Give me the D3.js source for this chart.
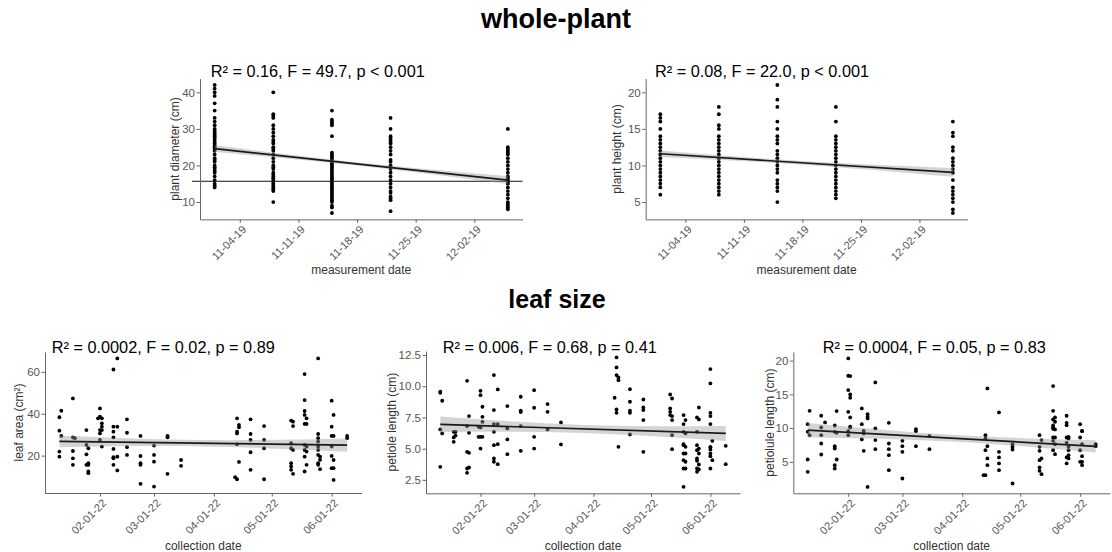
<!DOCTYPE html>
<html><head><meta charset="utf-8">
<script src="https://cdn.jsdelivr.net/npm/d3@7"></script>
<style>
body{margin:0;background:#fff;}
svg{display:block;font-family:"Liberation Sans",Arial,Helvetica,sans-serif;}
</style></head><body>
<svg id="chart" width="1112" height="552"></svg>
<script>
// ---------------- DATA ----------------
const wholePlantDates = ["2019-11-01","2019-11-08","2019-11-15","2019-11-22","2019-12-06"];
const wholePlantTicks = ["2019-11-04","2019-11-11","2019-11-18","2019-11-25","2019-12-02"];
const leafTicks = ["2022-02-01","2022-03-01","2022-04-01","2022-05-01","2022-06-01"];

const diameterValues = [
  [42,41,40,39,37,35,33,32,31,30,29.5,29,28.5,28,27.5,27,26.5,26,25.5,25,24.5,24,23,22,21.5,21,20,19.5,19,18.5,18,17,16,15,14.5,14],
  [40,34,33.5,33,31,30,29,28,27,26.5,26,25,24.5,24,23,22,21,20,19.5,19,18,17.5,17,16.5,16,15.5,15,14.5,14,13.5,13,10],
  [35,32.5,32,31.5,31,28,23.5,23,22.5,22,21.5,21,20.5,20,19.5,19,18.5,18,17.5,17,16.5,16,15.5,15,14.5,14,13.5,13,12.5,12,11.5,11,10.5,10,9,8.5,7],
  [33,30,28,27.5,27,26.5,26,25,24,23,21.5,21,20,19.5,19,18,17,16,15,14,13,12.5,11.5,11,10.5,7.5],
  [30,25,24.5,24,23.5,23,22,21,20,19,18,17,16.5,16,15.5,15,14,13,12,11,10,9.5,9,8.5,8]
];
const heightValues = [
  [17,16.5,16,15,14,13.5,13,12.5,12,11.5,11,10.5,10,9.5,9,8.5,8,7.5,7,6],
  [18,17,15.5,15,14,13.5,13,12.5,12,11.5,11,10.5,10,9.5,9,8.5,8,7.5,7,6.5,6],
  [21,19,18,16,15,14,13.5,13,12,11.5,11,10.5,10,9.5,9,8,7.5,7,6.5,5],
  [18,16,14,13.5,13,12.5,12,11.5,11,10.5,10,9.5,9,8.5,8,7.5,7,6.5,6,5.5],
  [16,14.5,14,12.5,12,11,10.5,10,9.5,9,8,7,6.5,6,5.5,5,4,3.5]
];
const diameterReference = 15.7;

const leafAreaData = [
  ["2022-01-11",[38.3,31.9,21.9,19.5]],["2022-01-12",[41.4,29.4]],
  ["2022-01-18",[47.3,28.7,22.2,18.7,15.6]],["2022-01-19",[28.3]],
  ["2022-01-25",[32.2,25.1,20.6,15.6]],["2022-01-26",[23.5,16.4,15.6,12.4,11.6]],
  ["2022-01-31",[37.8]],["2022-02-01",[42.5,38.6,32.2,30.6,27.5]],["2022-02-02",[37.8,35.4,33.8,32.2,24.3]],
  ["2022-02-08",[61.1,33.8,31.4,28.7,23.2,19.2,18.7,15.6]],["2022-02-10",[66.4,33.8,19.5,12.9]],
  ["2022-02-15",[37.3,30.9,24.0,20.3]],["2022-02-22",[29.4,19.8,16.4,15.6,6.5]],
  ["2022-03-01",[24.8,20.3,17.1,5.2]],["2022-03-08",[29.4,28.7,11.3]],["2022-03-15",[17.9,15.1]],
  ["2022-04-12",[9.7]],["2022-04-13",[37.8,31.4,30.6,25.4,8.7]],["2022-04-14",[34.6,33.5,17.0]],
  ["2022-04-20",[37.3,30.3,27.5,21.6,13.2]],["2022-04-27",[34.1,27.5,23.5,8.7]],
  ["2022-05-11",[36.7,25.9,23.5,16.4,14.8,13.2]],["2022-05-12",[36.2,34.1,22.7,11.3]],
  ["2022-05-18",[58.9,46.5,41.3,39.4,35.1,25.1,22.7,19.5,12.4]],["2022-05-19",[37.8,35.1,24.3,21.9,15.6]],
  ["2022-05-25",[66.4,30.3,28.3,26.7,24.3,22.7,20.3,16.4,15.6]],["2022-05-26",[19.5,18.0,13.5]],
  ["2022-06-01",[46.2,33.8,29.4,24.3,19.8,14.0]],["2022-06-02",[39.4,29.4,17.9,14.0,8.4]],
  ["2022-06-09",[29.4,28.3]]
];
const petioleData = [
  ["2022-01-11",[9.56,9.48,6.54,3.54]],["2022-01-12",[8.84,6.22]],
  ["2022-01-18",[6.35,5.90,5.55]],["2022-01-19",[6.35,6.05]],
  ["2022-01-25",[10.44,6.81,4.75,3.41,3.06]],["2022-01-26",[7.61,6.27,4.67,3.49]],
  ["2022-01-31",[6.75,5.95]],["2022-02-01",[9.64,9.29,6.70,5.95,5.01]],["2022-02-02",[8.36,7.55,7.15,5.95]],
  ["2022-02-08",[10.90,8.09,6.97,6.35,5.28,4.21,3.95]],["2022-02-10",[9.75,6.97,5.36,3.76]],
  ["2022-02-15",[8.41,6.62,5.74,4.56]],["2022-02-22",[9.16,8.04,7.93,6.81,4.83]],
  ["2022-03-01",[9.69,8.28,5.95,5.01]],["2022-03-08",[8.57,7.95,6.54]],["2022-03-15",[7.10,5.34]],
  ["2022-04-12",[9.08]],["2022-04-13",[12.31,11.51,10.90,8.14,7.87]],["2022-04-14",[10.71,10.49,5.15]],
  ["2022-04-20",[9.77,8.76,8.04,7.87,6.14]],["2022-04-27",[8.94,8.30,8.09,7.29,4.75]],
  ["2022-05-11",[9.34,8.22,7.95,7.69]],["2022-05-12",[9.02,7.61,7.29,6.08,4.96]],
  ["2022-05-18",[7.69,6.97,6.35,5.36,5.28,4.61,4.08,3.41,1.94]],["2022-05-19",[7.29,6.22,5.15,4.61,3.95,3.41]],
  ["2022-05-25",[7.50,6.35,5.28,4.88,4.21,4.03,3.41,3.14]],["2022-05-26",[8.30,7.34,5.01,4.61,3.73,3.33]],
  ["2022-06-01",[11.38,10.23,7.87,7.61,6.97,5.15,5.09,4.93,4.61,4.40,3.41]],["2022-06-02",[5.63,4.08]],
  ["2022-06-09",[5.23,3.76]]
];
const petioluleData = [
  ["2022-01-11",[10.59,9.45,5.35,3.52]],["2022-01-12",[12.57,8.96]],
  ["2022-01-18",[11.83,10.1,8.96,7.72,6.09]],["2022-01-20",[10.84]],
  ["2022-01-25",[10.39,9.45,7.33,6.98,4.51,4.01]],["2022-01-26",[12.52,9.3,5.35]],
  ["2022-02-01",[20.33,17.76,15.64,12.42,9.55,8.96]],["2022-02-02",[17.71,15.0,14.5,11.58,10.2,10.1]],
  ["2022-02-08",[12.92,10.59,8.32]],["2022-02-09",[9.6,9.21,6.63]],["2022-02-11",[12.07,11.68,11.43,1.29]],
  ["2022-02-15",[16.77,9.95,8.22,6.88]],["2022-02-22",[10.79,7.72,6.88,5.99,3.77]],
  ["2022-03-01",[8.12,7.33,6.49,2.53]],["2022-03-08",[9.85,9.55,7.33]],["2022-03-15",[8.86,6.88]],
  ["2022-04-12",[3.02]],["2022-04-13",[8.96,8.46,6.73,3.02]],["2022-04-14",[15.88,7.33,5.5,4.51]],
  ["2022-04-20",[12.32,6.49,5.65,4.76,3.77]],["2022-04-27",[7.62,7.23,6.83,1.79]],
  ["2022-05-11",[8.96,7.23,6.63,5.25,4.16,3.67]],["2022-05-12",[8.22,5.5,3.17]],
  ["2022-05-18",[16.23,12.57,11.28,10.4,10.1,9.9,8.61,8.12,6.73]],["2022-05-19",[11.58,10.94,9.8,8.61,7.62,6.14]],
  ["2022-05-25",[11.83,10.79,10.44,8.61,7.82,5.65,4.76]],["2022-05-26",[8.71,8.46,7.23,6.73,5.99,5.5]],
  ["2022-06-01",[10.59,8.61,6.73,5.0]],["2022-06-02",[9.6,9.55,7.62,5.84,5.0,4.51]],
  ["2022-06-09",[7.62,7.33]]
];

// fitted line values at first / last date, and CI half-widths at start / middle / end
const diameterFit = [24.6, 16.0],  diameterBand = [0.9, 0.45, 1.1];
const heightFit = [11.6, 9.05],    heightBand = [0.45, 0.25, 0.6];
const leafAreaFit = [26.8, 25.0],  leafAreaBand = [2.8, 1.5, 3.2];
const petioleFit = [6.95, 6.22],   petioleBand = [0.62, 0.32, 0.6];
const petioluleFit = [9.7, 7.3],   petioluleBand = [1.05, 0.5, 0.9];

const diameterTicks = [10,20,30,40];
const heightTicks = [5,10,15,20];
const leafAreaTicks = [20,40,60];
const petioleTicks = [2.5,5.0,7.5,10.0,12.5];
const petioluleTicks = [5,10,15,20];

const stats = {
  diameter: "R\u00B2 = 0.16, F = 49.7, p < 0.001",
  height: "R\u00B2 = 0.08, F = 22.0, p < 0.001",
  area: "R\u00B2 = 0.0002, F = 0.02, p = 0.89",
  petiole: "R\u00B2 = 0.006, F = 0.68, p = 0.41",
  petiolule: "R\u00B2 = 0.0004, F = 0.05, p = 0.83"
};

// ---------------- LAYOUT ----------------
const svg = d3.select("#chart");
const parse = d3.timeParse("%Y-%m-%d");
const expand = ([a,b]) => { const r = b - a; return [a - 0.05*r, b + 0.05*r]; };

const fromColumns = (dates, cols) => dates.flatMap((d,i) => cols[i].map(v => ({date: parse(d), v})));
const fromGroups = groups => groups.flatMap(([d, vals]) => vals.map(v => ({date: parse(d), v})));

function drawPanel(p) {
  const g = svg.append("g");
  const b = p.box;
  const tExt = d3.extent(p.points, d => +d.date);
  const x = d3.scaleTime().domain(expand(tExt).map(t => new Date(t))).range([b.x0, b.x1]);
  const y = d3.scaleLinear().domain(expand(d3.extent(p.points, d => d.v))).range([b.y1, b.y0]);

  // points
  g.append("g").selectAll("circle").data(p.points).join("circle")
    .attr("cx", d => x(d.date)).attr("cy", d => y(d.v)).attr("r", 1.9).attr("fill", "#000");

  if (p.hline != null) {
    g.append("line").attr("x1", b.x0 - 8).attr("x2", b.x1)
      .attr("y1", y(p.hline)).attr("y2", y(p.hline))
      .attr("stroke", "#111").attr("stroke-width", 1.1);
  }

  // confidence band + fit
  const [t0, t1] = tExt;
  const fitAt = t => p.fit[0] + (p.fit[1] - p.fit[0]) * (t - t0) / (t1 - t0);
  const bandPts = p.band.map((h, i) => {
    const t = t0 + (t1 - t0) * i / (p.band.length - 1);
    return {t, lo: fitAt(t) - h, hi: fitAt(t) + h};
  });
  g.append("path").datum(bandPts)
    .attr("d", d3.area().x(d => x(new Date(d.t))).y0(d => y(d.lo)).y1(d => y(d.hi)).curve(d3.curveNatural))
    .attr("fill", "#999").attr("fill-opacity", 0.42);
  g.append("line")
    .attr("x1", x(new Date(t0))).attr("y1", y(p.fit[0]))
    .attr("x2", x(new Date(t1))).attr("y2", y(p.fit[1]))
    .attr("stroke", "#1a1a1a").attr("stroke-width", 1.7);

  // axes
  const xa = g.append("g").attr("transform", `translate(0,${b.y1})`)
    .call(d3.axisBottom(x).tickValues(p.xTicks.map(parse)).tickFormat(d3.timeFormat("%m-%d-%y"))
      .tickSize(3.5).tickSizeOuter(0))
    .attr("font-family", null).attr("font-size", null);
  xa.select(".domain").attr("stroke", "#666").attr("stroke-width", 1);
  xa.selectAll(".tick line").attr("stroke", "#666");
  xa.selectAll(".tick text")
    .attr("x", 0).attr("y", 0).attr("dy", "0.35em")
    .attr("transform", "translate(4,8) rotate(-45)")
    .style("text-anchor", "end").attr("fill", "#555").style("font-size", "11px");

  const ya = g.append("g").attr("transform", `translate(${b.x0},0)`)
    .call(d3.axisLeft(y).tickValues(p.yTicks).tickFormat(p.yFmt).tickSize(3.5).tickPadding(1.5).tickSizeOuter(0))
    .attr("font-family", null).attr("font-size", null);
  ya.select(".domain").attr("stroke", "#666").attr("stroke-width", 1);
  ya.selectAll(".tick line").attr("stroke", "#666");
  ya.selectAll(".tick text").attr("fill", "#555").style("font-size", "11.5px");

  // labels
  g.append("text").attr("transform", `translate(${p.ylabX},${(b.y0 + b.y1) / 2}) rotate(-90)`)
    .attr("dy", "0.35em").attr("text-anchor", "middle").attr("fill", "#333")
    .style("font-size", "12px").text(p.ylab);
  g.append("text").attr("x", (b.x0 + b.x1) / 2).attr("y", p.xlabY)
    .attr("text-anchor", "middle").attr("fill", "#333").style("font-size", "12px").text(p.xlab);
  g.append("text").attr("x", p.statX).attr("y", p.statY)
    .attr("fill", "#000").style("font-size", "16.3px").text(p.stat);
}

const fmtInt = d3.format("d"), fmt1 = d3.format(".1f");

drawPanel({box:{x0:200,x1:522.5,y0:78.6,y1:219.4}, points: fromColumns(wholePlantDates, diameterValues),
  fit: diameterFit, band: diameterBand, hline: diameterReference, xTicks: wholePlantTicks, yTicks: diameterTicks, yFmt: fmtInt,
  ylab: "plant diameter (cm)", xlab: "measurement date", stat: stats.diameter, ylabX: 175, xlabY: 274, statX: 210.7, statY: 77});
drawPanel({box:{x0:645.7,x1:967.5,y0:78.6,y1:219.4}, points: fromColumns(wholePlantDates, heightValues),
  fit: heightFit, band: heightBand, xTicks: wholePlantTicks, yTicks: heightTicks, yFmt: fmtInt,
  ylab: "plant height (cm)", xlab: "measurement date", stat: stats.height, ylabX: 617, xlabY: 274, statX: 655, statY: 77});
drawPanel({box:{x0:45,x1:361.5,y0:352,y1:493}, points: fromGroups(leafAreaData),
  fit: leafAreaFit, band: leafAreaBand, xTicks: leafTicks, yTicks: leafAreaTicks, yFmt: fmtInt,
  ylab: "leaf area (cm\u00B2)", xlab: "collection date", stat: stats.area, ylabX: 19, xlabY: 550, statX: 51.7, statY: 353});
drawPanel({box:{x0:426,x1:740,y0:351,y1:493.3}, points: fromGroups(petioleData),
  fit: petioleFit, band: petioleBand, xTicks: leafTicks, yTicks: petioleTicks, yFmt: fmt1,
  ylab: "petiole length (cm)", xlab: "collection date", stat: stats.petiole, ylabX: 392, xlabY: 550, statX: 442.7, statY: 353});
drawPanel({box:{x0:793.3,x1:1110,y0:352,y1:493.3}, points: fromGroups(petioluleData),
  fit: petioluleFit, band: petioluleBand, xTicks: leafTicks, yTicks: petioluleTicks, yFmt: fmtInt,
  ylab: "petiolule length (cm)", xlab: "collection date", stat: stats.petiolule, ylabX: 770, xlabY: 550, statX: 822.7, statY: 353});

// section titles
svg.append("text").attr("x", 556).attr("y", 28).attr("text-anchor", "middle")
  .style("font-size", "27px").style("font-weight", "bold").attr("fill", "#000").text("whole-plant");
svg.append("text").attr("x", 557).attr("y", 308).attr("text-anchor", "middle")
  .style("font-size", "25px").style("font-weight", "bold").attr("fill", "#000").text("leaf size");
</script></body></html>
